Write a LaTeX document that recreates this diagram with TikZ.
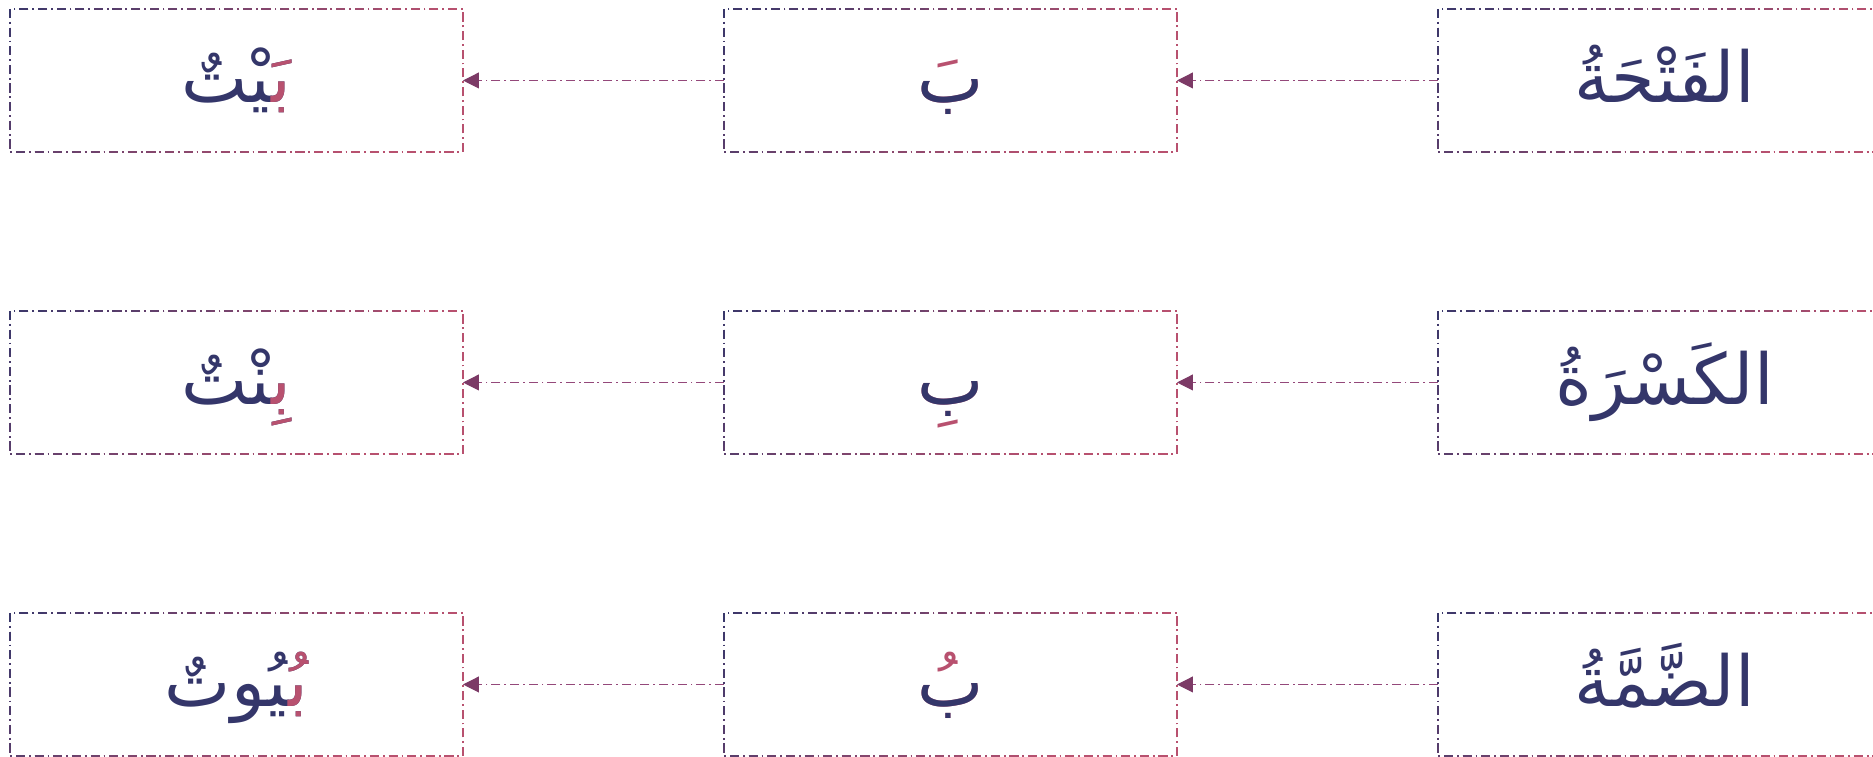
\documentclass[tikz,border=0pt]{standalone}
\usepackage{fontspec}
\newfontfamily\arabicfont[Script=Arabic]{DejaVu Sans}
\TeXXeTstate=1
\usetikzlibrary{arrows.meta,positioning,calc}
\definecolor{inkblue}{HTML}{34366A}
\definecolor{rosepink}{HTML}{B8516F}
\definecolor{arrowplum}{HTML}{94487A}
\definecolor{tipplum}{HTML}{7C3A66}
\newcommand{\zwj}{^^^^200d}
\newcommand{\rtl}[1]{\beginR#1\endR}
% dash-dot rim, blue at the top left running into pink, drawn in slanted bands
\newcommand{\cellrim}[1]{%
  \foreach \k in {0,...,23} {
    \pgfmathtruncatemacro{\mix}{max(0,100-100*(\k+0.5)*0.2388/4.53)}
    \begin{scope}
      \clip ($(#1.north west)+(\k*0.2388-0.1,0.05)$) -- ++(0.3388,0) -- ++(-1.2,-1.53) -- ++(-0.3388,0) -- cycle;
      \draw[rimline, draw=inkblue!\mix!rosepink] (#1.north west) rectangle (#1.south east);
    \end{scope}}}

\begin{document}
\begin{tikzpicture}[
  node distance=1.59cm and 2.61cm,
  cell/.style={minimum width=4.53cm, minimum height=1.43cm, inner sep=0pt, outer sep=0pt},
  word/.style={inner sep=0pt, outer sep=0pt, text height=0.7cm, text depth=0.25cm, text=inkblue,
    font=\arabicfont\fontsize{20}{24}\selectfont},
  harakah/.style={word, text=rosepink},
  rimline/.style={line width=0.32pt, dash pattern=on 2.6pt off 1.1pt on 0.5pt off 1.1pt},
  arr/.style={rimline, draw=arrowplum, -{Triangle[length=4.5pt, width=4.5pt, color=tipplum]}}
]
  \useasboundingbox (0,0) rectangle (18.73,7.57);

  % boxes
  \node[cell, anchor=north west] (bayt) at (0.10,7.48) {};
  \node[cell, right=of bayt] (fathab) {};
  \node[cell, right=of fathab] (fatha) {};
  \node[cell, below=of bayt] (bint) {};
  \node[cell, right=of bint] (kasrab) {};
  \node[cell, right=of kasrab] (kasra) {};
  \node[cell, below=of bint] (buyut) {};
  \node[cell, right=of buyut] (dammab) {};
  \node[cell, right=of dammab] (damma) {};

  % row 1: fatha
  \node[word] (fathaw) at (fatha) {\rtl{الفَتْحَةُ}};
  \node[harakah] (fathabw) at (fathab) {\rtl{بَ}};
  \node[word] (fathabb) at (fathab) {\rtl{ب}};
  \node[word] (baytw) at (bayt) {\rtl{بَيْتٌ}};
  \node[harakah, anchor=base east] (baytb) at (baytw.base east) {\rtl{بَ\zwj}};

  % row 2: kasra
  \node[word] (kasraw) at (kasra) {\rtl{الكَسْرَةُ}};
  \node[harakah] (kasrabw) at (kasrab) {\rtl{بِ}};
  \node[word] (kasrabb) at (kasrab) {\rtl{ب}};
  \node[word] (bintw) at (bint) {\rtl{بِنْتٌ}};
  \node[harakah, anchor=base east] (bintb) at (bintw.base east) {\rtl{بِ\zwj}};

  % row 3: damma
  \node[word] (dammaw) at (damma) {\rtl{الضَّمَّةُ}};
  \node[harakah] (dammabw) at (dammab) {\rtl{بُ}};
  \node[word] (dammabb) at (dammab) {\rtl{ب}};
  \node[word] (buyutw) at (buyut) {\rtl{بُيُوتٌ}};
  \node[harakah, anchor=base east] (buyutb) at (buyutw.base east) {\rtl{بُ\zwj}};

  \foreach \c in {bayt,fathab,fatha,bint,kasrab,kasra,buyut,dammab,damma}
    \cellrim{\c};

  \draw[arr] (fatha) -- (fathab);
  \draw[arr] (fathab) -- (bayt);
  \draw[arr] (kasra) -- (kasrab);
  \draw[arr] (kasrab) -- (bint);
  \draw[arr] (damma) -- (dammab);
  \draw[arr] (dammab) -- (buyut);
\end{tikzpicture}
\end{document}
